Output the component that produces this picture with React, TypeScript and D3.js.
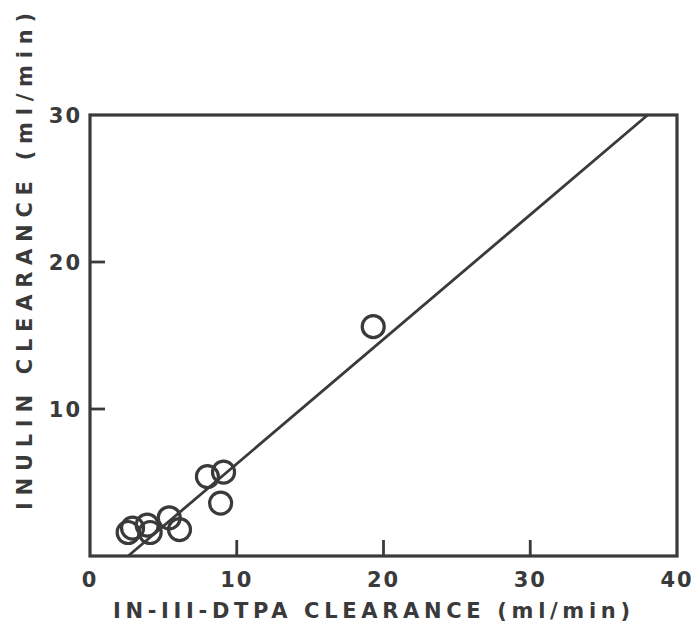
import { useRef, useEffect } from 'react';
import * as d3 from 'd3';

// IN-111-DTPA clearance vs inulin clearance (ml/min)
const dtpaClearance = [2.6, 2.9, 3.9, 4.1, 5.4, 6.1, 8.0, 9.1, 8.9, 19.3];
const inulinClearance = [1.6, 1.9, 2.1, 1.6, 2.6, 1.8, 5.4, 5.7, 3.6, 15.6];

// regression line end points [x, y]
const fitLine: [number, number][] = [[2.6, 0], [38, 30]];

const xTicks = [0, 10, 20, 30, 40];
const yTicks = [10, 20, 30];

const xTitle = 'IN-III-DTPA CLEARANCE (ml/min)';
const yTitle = 'INULIN CLEARANCE (ml/min)';

function App() {
  const svgRef = useRef<SVGSVGElement>(null);

  useEffect(() => {
    const width = 699;
    const height = 623;
    const margin = { top: 115, right: 22, bottom: 67, left: 90 };
    const ink = '#3a3a3a';
    const font = 'DejaVu Sans, sans-serif';

    const root = d3.select(svgRef.current);
    root.selectAll('*').remove();
    root.attr('width', width).attr('height', height);

    root.append('rect').attr('width', width).attr('height', height).attr('fill', '#fff');

    const innerWidth = width - margin.left - margin.right;
    const innerHeight = height - margin.top - margin.bottom;

    const svg = root.append('g').attr('transform', `translate(${margin.left},${margin.top})`);

    const x = d3.scaleLinear().domain([0, 40]).range([0, innerWidth]);
    const y = d3.scaleLinear().domain([0, 30]).range([innerHeight, 0]);

    // frame
    svg.append('rect')
      .attr('width', innerWidth)
      .attr('height', innerHeight)
      .attr('fill', 'none')
      .attr('stroke', ink)
      .attr('stroke-width', 3.2);

    // inner ticks
    svg.selectAll('.xtick')
      .data(xTicks.filter(d => d > 0 && d < 40))
      .enter()
      .append('line')
      .attr('x1', d => x(d))
      .attr('x2', d => x(d))
      .attr('y1', innerHeight)
      .attr('y2', innerHeight - 16)
      .attr('stroke', ink)
      .attr('stroke-width', 2.8);

    svg.selectAll('.ytick')
      .data(yTicks.filter(d => d < 30))
      .enter()
      .append('line')
      .attr('x1', 0)
      .attr('x2', 15)
      .attr('y1', d => y(d))
      .attr('y2', d => y(d))
      .attr('stroke', ink)
      .attr('stroke-width', 2.8);

    // tick labels
    svg.selectAll('.xlabel')
      .data(xTicks)
      .enter()
      .append('text')
      .attr('x', d => x(d))
      .attr('y', innerHeight + 31)
      .attr('text-anchor', 'middle')
      .attr('font-family', font)
      .attr('font-size', 21)
      .attr('font-weight', 'bold')
      .attr('letter-spacing', 2)
      .attr('fill', ink)
      .text(d => d);

    svg.selectAll('.ylabel')
      .data(yTicks)
      .enter()
      .append('text')
      .attr('x', -8)
      .attr('y', d => y(d) + 8)
      .attr('text-anchor', 'end')
      .attr('font-family', font)
      .attr('font-size', 21)
      .attr('font-weight', 'bold')
      .attr('letter-spacing', 2)
      .attr('fill', ink)
      .text(d => d);

    // fit line
    svg.append('path')
      .datum(fitLine)
      .attr('fill', 'none')
      .attr('stroke', ink)
      .attr('stroke-width', 2.8)
      .attr('d', d3.line<[number, number]>().x(d => x(d[0])).y(d => y(d[1])));

    // points
    svg.selectAll('circle')
      .data(dtpaClearance.map((v, i) => [v, inulinClearance[i]]))
      .enter()
      .append('circle')
      .attr('cx', d => x(d[0]))
      .attr('cy', d => y(d[1]))
      .attr('r', 11)
      .attr('fill', 'none')
      .attr('stroke', ink)
      .attr('stroke-width', 3.2);

    // axis titles
    root.append('text')
      .attr('x', 113)
      .attr('y', 618)
      .attr('textLength', 517)
      .attr('lengthAdjust', 'spacing')
      .attr('font-family', font)
      .attr('font-size', 21)
      .attr('font-weight', 'bold')
      .attr('fill', ink)
      .text(xTitle);

    root.append('text')
      .attr('transform', 'translate(32,510) rotate(-90)')
      .attr('textLength', 497)
      .attr('lengthAdjust', 'spacing')
      .attr('font-family', font)
      .attr('font-size', 21)
      .attr('font-weight', 'bold')
      .attr('fill', ink)
      .text(yTitle);
  }, []);

  return (
    <div style={{ position: 'absolute', left: 0, top: 0 }}>
      <svg ref={svgRef} style={{ display: 'block' }}></svg>
    </div>
  );
}

export default App;
